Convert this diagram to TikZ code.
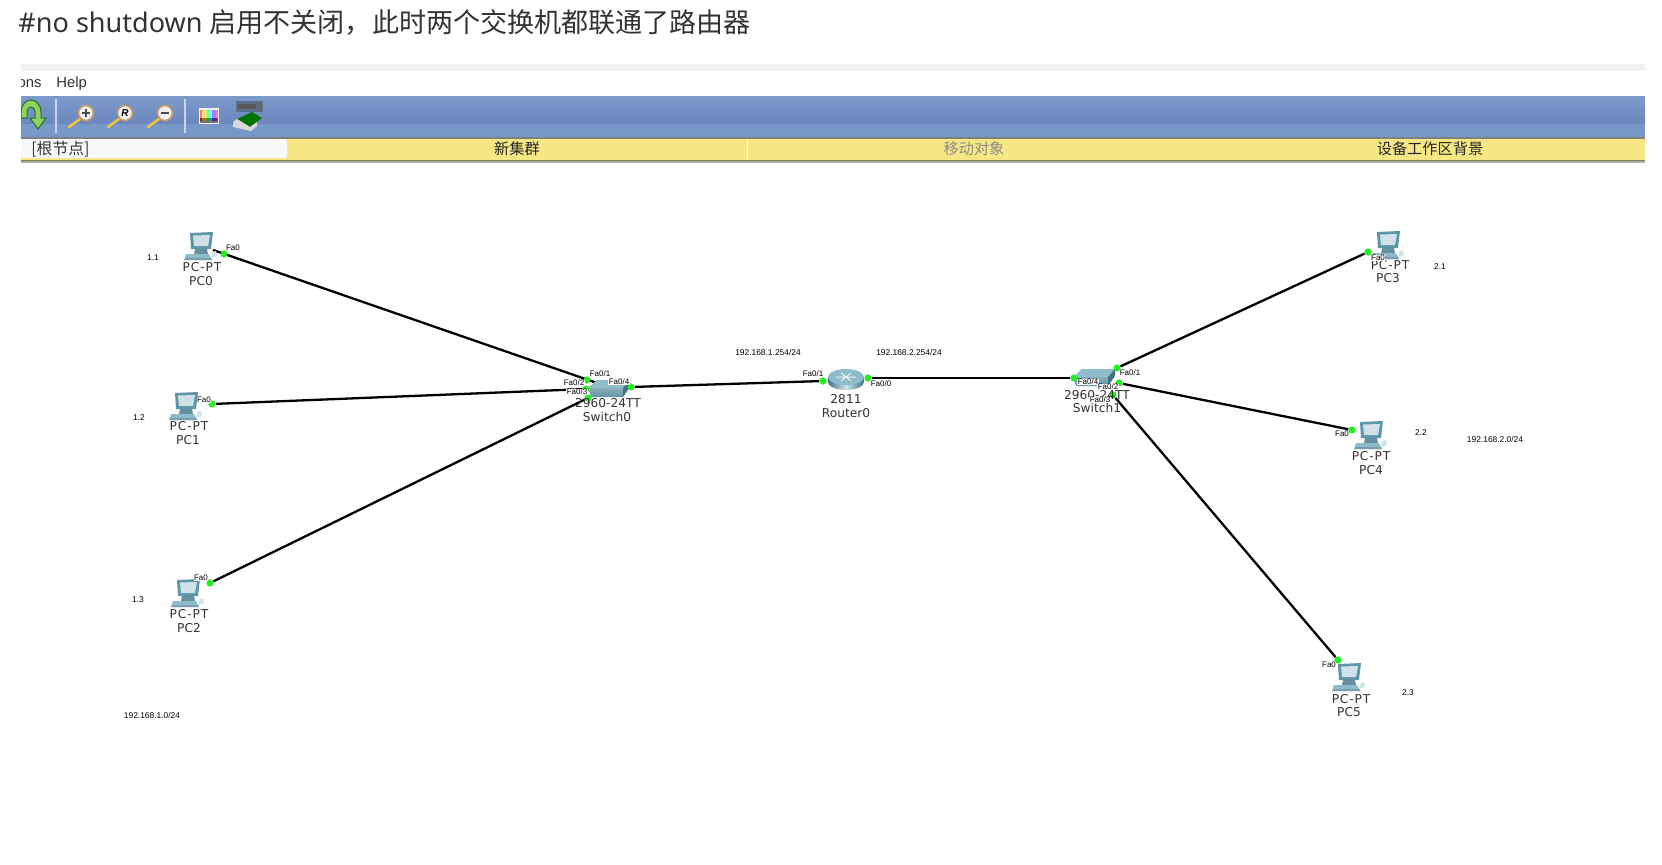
\documentclass[tikz,border=0pt]{standalone}
\usepackage{fontspec}
\setmainfont{Liberation Sans}
\newfontfamily\cjk{Noto Sans CJK SC}
\newfontfamily\headf{Noto Sans}
\newfontfamily\devf{DejaVu Sans}
\newfontfamily\devspaced[LetterSpace=7]{DejaVu Sans}
\usetikzlibrary{calc}
\definecolor{headc}{HTML}{333333}
\definecolor{bandc}{HTML}{F2F2F5}
\definecolor{blueA}{HTML}{7C9BCB}
\definecolor{blueB}{HTML}{6B87BE}
\definecolor{blueC}{HTML}{7898C8}
\definecolor{yellowc}{HTML}{F6E684}
\definecolor{dotc}{HTML}{22EE22}
\definecolor{tealA}{HTML}{5E95A8}
\definecolor{tealB}{HTML}{8FBCCB}
\definecolor{tealD}{HTML}{3F7488}
\definecolor{screenc}{HTML}{CFE2EA}
\definecolor{rootc}{HTML}{F8F9FB}
\definecolor{arrowc}{HTML}{8ED15C}
\definecolor{arrowd}{HTML}{23702B}
\definecolor{lensc}{HTML}{C99A66}
\definecolor{handlec}{HTML}{F2C832}
\definecolor{slotc}{HTML}{5A6F8C}
\tikzset{
  x=0.5pt,y=-0.5pt,
  port/.style={circle,fill=dotc,inner sep=0pt,minimum size=3.5pt},
  link/.style={draw=black,line width=1.15pt},
  devlabel/.style={font=\devf\fontsize{6.1}{7}\selectfont,text=black!80,inner sep=0pt},
  pclabel/.style={font=\devspaced\fontsize{6.1}{7}\selectfont,text=black!80,inner sep=0pt},
  portlabel/.style={font=\fontsize{4}{4}\selectfont,text=black,fill=white,inner sep=.25pt},
  addr/.style={font=\fontsize{4.2}{4}\selectfont,text=black,inner sep=0pt},
  tabtext/.style={font=\cjk\fontsize{7.6}{8}\selectfont,inner sep=0pt},
  pcicon/.pic={
    \fill[tealA] (-11,-13) -- (12,-14) -- (10,3) -- (-10,3) -- cycle;
    \fill[screenc] (-8,-10.5) -- (9,-11) -- (7,0) -- (-7,0) -- cycle;
    \fill[tealD!80] (-6,3) -- (6,3) -- (7,8) -- (-7,8) -- cycle;
    \fill[tealB] (-15,8) -- (8,8) -- (11,14) -- (-17,14) -- cycle;
    \fill[tealD!70] (-15,12) -- (10,12) -- (11,14) -- (-17,14) -- cycle;
    \fill[white!80!teal] (11,6) -- (15,5) -- (16,10) -- (10,12) -- cycle;
  },
  switchicon/.pic={
    \shade[top color=tealD!60,bottom color=tealA] (-18,-1) -- (17,-1) -- (17,8) -- (-15,8) -- cycle;
    \fill[tealB] (-18,-1) -- (-9,-9) -- (24,-9) -- (17,-1) -- cycle;
    \fill[tealD] (17,-1) -- (24,-9) -- (24,-2) -- (17,8) -- cycle;
  },
  routericon/.pic={
    \shade[left color=tealD,right color=tealD,middle color=screenc] (-18,-3) -- (-18,2) arc[x radius=18,y radius=8,start angle=180,end angle=0] -- (18,-3) -- cycle;
    \fill[tealB] (0,-3) ellipse[x radius=18,y radius=8];
    \draw[white!80!tealB,line width=.5pt] (-10,-3) -- (10,-3) (-5,-7) -- (5,1) (5,-7) -- (-5,1);
  },
  lens/.pic={
    \draw[handlec,line width=1.2pt,line cap=round] (-6,6) -- (-17,14);
    \fill[white!88!gray,draw=lensc,line width=.8pt] (0,0) circle[radius=7.5];
  }
}
\begin{document}
\begin{tikzpicture}
\useasboundingbox[fill=white] (0,0) rectangle (1662,864);
% heading
\node[anchor=west,inner sep=0pt,text=headc,font=\headf\fontsize{13.53}{14}\selectfont] (head) at (18,22) {\#no shutdown {\cjk 启用不关闭，此时两个交换机都联通了路由器}};
% window chrome
\fill[bandc] (21,64) rectangle (1645,71);
\shade[top color=blueA,bottom color=blueB] (21,96) rectangle (1645,124);
\fill[blueC] (21,124) rectangle (1645,137);
\fill[black!50] (21,137) rectangle (1645,139);
\fill[yellowc] (21,139) rectangle (1645,160);
\fill[black!55!yellow] (21,160) rectangle (1645,161);
\fill[black!32] (21,161) rectangle (1645,163);
\fill[rootc,rounded corners=1pt] (21,139) rectangle (287,158);
\draw[white!85!yellow,line width=.5pt] (747,139) -- (747,160);
\begin{scope}
\clip (21,72) rectangle (60,95);
\node[font=\fontsize{7.4}{8}\selectfont,inner sep=0pt,anchor=east,text=black!80] (menuA) at (42,83.5) {ons};
\end{scope}
\node[font=\fontsize{7.4}{8}\selectfont,inner sep=0pt,anchor=west,text=black!80] (menuB) at (56,83.5) {Help};
\node[tabtext,font=\cjk\fontsize{7.9}{8}\selectfont,anchor=west,text=black!80] (root) at (31,149) {[根节点]};
\node[tabtext,text=black!85] (tabA) at (517,149) {新集群};
\node[tabtext,text=black!45] (tabB) at (974,149) {移动对象};
\node[tabtext,text=black!85] (tabC) at (1430,149) {设备工作区背景};
% toolbar icons
\begin{scope}
\clip (21,96) rectangle (60,136);
\fill[arrowc,draw=arrowd,line width=.5pt] (21,118) -- (21,112) arc[start angle=180,end angle=360,x radius=10,y radius=12] -- (41,118) -- (46,118) -- (38,129) -- (30,118) -- (35,118) -- (35,112) arc[start angle=0,end angle=-180,x radius=4,y radius=5] -- (27,118) -- cycle;
\end{scope}
\draw[white!65!blueB,line width=.6pt] (56,99) -- (56,133) (185,99) -- (185,133);
\pic at (86,113) {lens};
\pic at (125,113) {lens};
\pic at (165,113) {lens};
\node[font=\fontsize{5}{5}\selectfont\bfseries\itshape,inner sep=0pt] (lensR) at (125,113) {R};
\fill[black!70] (82,112) rectangle (90,114);
\fill[black!70] (85,109) rectangle (87,117);
\fill[black!70] (161,112) rectangle (169,114);
\fill[white!90!gray] (199,108) rectangle (219,124);
\foreach \i in {0,...,7}{
  \pgfmathsetmacro\hh{\i/8}
  \definecolor{cellc}{hsb}{\hh,.55,1}
  \fill[cellc] ({200+\i*2.3},110) rectangle ({202.3+\i*2.3},118);
  \definecolor{cellc}{hsb}{\hh,.8,.6}
  \fill[cellc] ({200+\i*2.3},118) rectangle ({202.3+\i*2.3},121);
}
\fill[black!55] (200,121) rectangle (218,123);
\fill[slotc] (236,101) rectangle (263,112);
\fill[black!65] (238,104) rectangle (256,109);
\fill[black!60] (257,103) rectangle (261,110);
\fill[black!55!green] (237,119) -- (252,112) -- (262,118) -- (250,127) -- cycle;
\fill[white!70!gray] (233,122) -- (237,119) -- (250,127) -- (257,122) -- (257,126) -- (251,131) -- (233,127) -- cycle;
% ports
\node[port] (p0) at (224,254) {};
\node[port] (p1) at (212,404) {};
\node[port] (p2) at (210,583) {};
\node[port] (s01) at (587,380) {};
\node[port] (s02) at (586,389) {};
\node[port] (s03) at (588,398) {};
\node[port] (s04) at (631,387) {};
\node[port] (r1) at (823,381) {};
\node[port] (r0) at (868,378) {};
\node[port] (s14) at (1074,378) {};
\node[port] (s11) at (1117,368) {};
\node[port] (s12) at (1119,383) {};
\node[port] (s13) at (1113,395) {};
\node[port] (p3) at (1368,252) {};
\node[port] (p4) at (1352,430) {};
\node[port] (p5) at (1338,660) {};
\coordinate (c0) at (213,250);
\coordinate (sw0in) at (597,383);
% connectors
\draw[link] (c0) -- (sw0in);
\draw[link] (p1) -- (s02);
\draw[link] (p2) -- (s03);
\draw[link] (s04) -- (r1);
\draw[link] (r0) -- (s14);
\draw[link] (s11) -- (p3);
\draw[link] (s12) -- (p4);
\draw[link] (s13) -- (p5);
% devices
\pic at (201,246) {pcicon};
\pic at (186,406) {pcicon};
\pic at (188,593) {pcicon};
\pic at (1388,245) {pcicon};
\pic at (1371,435) {pcicon};
\pic at (1349,677) {pcicon};
\pic at (606,389) {switchicon};
\pic at (1091,378) {switchicon};
\pic at (846,380) {routericon};
% ports drawn over the icons
\foreach \n in {p0,p1,p2,s01,s02,s03,s04,r1,r0,s14,s11,s12,s13,p3,p4,p5}{\fill[dotc] (\n) circle[radius=3.4];}
% device labels
\node[pclabel] (l0a) at (202,267) {PC-PT};
\node[devlabel] (l0b) at (201,281) {PC0};
\node[pclabel] (l1a) at (189,426) {PC-PT};
\node[devlabel] (l1b) at (188,440) {PC1};
\node[pclabel] (l2a) at (189,614) {PC-PT};
\node[devlabel] (l2b) at (189,628) {PC2};
\node[pclabel] (l3a) at (1390,265) {PC-PT};
\node[devlabel] (l3b) at (1388,278) {PC3};
\node[pclabel] (l4a) at (1371,456) {PC-PT};
\node[devlabel] (l4b) at (1371,470) {PC4};
\node[pclabel] (l5a) at (1351,699) {PC-PT};
\node[devlabel] (l5b) at (1349,712) {PC5};
\node[devlabel] (ls0a) at (608,403) {2960-24TT};
\node[devlabel] (ls0b) at (607,417) {Switch0};
\node[devlabel] (ls1a) at (1097,395) {2960-24TT};
\node[devlabel] (ls1b) at (1097,408) {Switch1};
\node[devlabel] (lra) at (846,399) {2811};
\node[devlabel] (lrb) at (846,413) {Router0};
% port labels
\node[portlabel] (f0) at (233,248) {Fa0};
\node[portlabel] (f1) at (204,400) {Fa0};
\node[portlabel] (f2) at (201,578) {Fa0};
\node[portlabel] (f3) at (1378,258) {Fa0};
\node[portlabel] (f4) at (1342,434) {Fa0};
\node[portlabel] (f5) at (1329,665) {Fa0};
\node[portlabel] (fs01) at (600,374) {Fa0/1};
\node[portlabel] (fs02) at (574,383) {Fa0/2};
\node[portlabel] (fs03) at (577,392) {Fa0/3};
\node[portlabel] (fs04) at (619,382) {Fa0/4};
\node[portlabel] (fr1) at (813,374) {Fa0/1};
\node[portlabel] (fr0) at (881,384) {Fa0/0};
\node[portlabel] (fs11) at (1130,373) {Fa0/1};
\node[portlabel] (fs14) at (1088,382) {Fa0/4};
\node[portlabel] (fs12) at (1108,387) {Fa0/2};
\node[portlabel] (fs13) at (1100,400) {Fa0/3};
% address labels
\node[addr] (a1) at (153,258) {1.1};
\node[addr] (a2) at (139,418) {1.2};
\node[addr] (a3) at (138,600) {1.3};
\node[addr] (n1) at (152,715) {192.168.1.0/24};
\node[addr] (g1) at (768,352) {192.168.1.254/24};
\node[addr] (g2) at (909,352) {192.168.2.254/24};
\node[addr] (b1) at (1440,267) {2.1};
\node[addr] (b2) at (1421,433) {2.2};
\node[addr] (b3) at (1408,693) {2.3};
\node[addr] (n2) at (1495,439) {192.168.2.0/24};
\end{tikzpicture}
\end{document}
